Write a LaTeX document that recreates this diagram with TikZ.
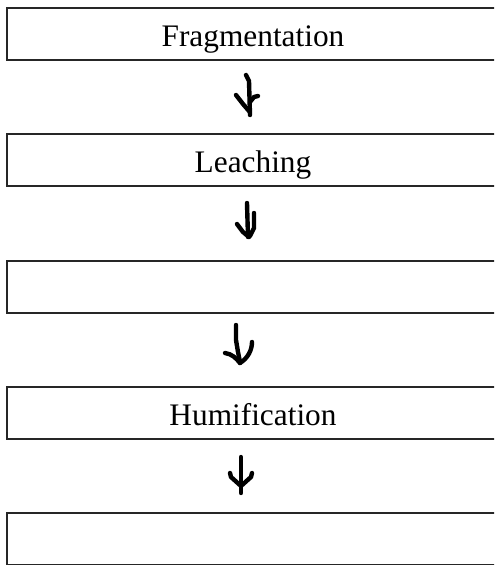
\documentclass[tikz,border=0pt]{standalone}
\usepackage{fontspec}
\setmainfont{Liberation Serif}
\begin{document}
\begin{tikzpicture}[x=0.75pt,y=-0.75pt,
  stage/.style={draw=black!85,line width=0.8pt,rectangle,minimum width=450pt,minimum height=39pt,inner sep=0pt},
  label/.style={anchor=base,inner sep=0pt,font=\fontsize{23.5pt}{28pt}\selectfont},
  hand/.style={line width=3.3pt,line cap=round,line join=round,black}]
\useasboundingbox (0,0) rectangle (494,565);
\fill[white] (0,0) rectangle (494,565);
\clip (0,0) rectangle (494,565);
\node[stage] (b1) at (307,34) {};
\node[stage] (b2) at (307,160) {};
\node[stage] (b3) at (307,287) {};
\node[stage] (b4) at (307,413) {};
\node[stage] (b5) at (307,539) {};
\node[label] (t1) at (253,46) {Fragmentation};
\node[label] (t2) at (253,172) {Leaching};
\node[label] (t4) at (253,425) {Humification};
% arrow 1
\draw[hand] (246,75) -- (249,81) -- (250,115);
\draw[hand] (236,95) -- (243,104) -- (249,111);
\draw[hand] (250,102) -- (254,97) -- (258,96);
% arrow 2
\draw[hand] (247,203) -- (248,237);
\draw[hand] (254,213) -- (254,228) -- (250,236);
\draw[hand] (237,224) -- (243,232) -- (249,237);
% arrow 3
\draw[hand] (236,325) -- (236,340) -- (238,352) -- (240,362);
\draw[hand] (225,353) .. controls (232,354) and (236,358) .. (240,363);
\draw[hand] (240,363) .. controls (248,358) and (252,350) .. (252,342);
% arrow 4
\draw[hand] (241,457) -- (241,493);
\draw[hand] (230,473) -- (231,477) -- (241,486);
\draw[hand] (252,473) -- (251,477) -- (241,486);
\end{tikzpicture}
\end{document}
